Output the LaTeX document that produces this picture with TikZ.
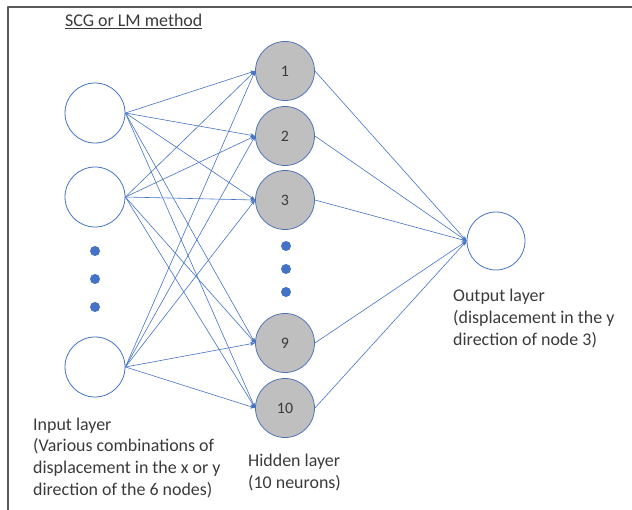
\documentclass[tikz,border=0pt]{standalone}
\usepackage{fontspec}
\setmainfont{Carlito}
\usetikzlibrary{arrows.meta}
\definecolor{netblue}{HTML}{4472C4}
\definecolor{txtgray}{HTML}{3A3A3A}
\tikzset{
	inputnode/.style={circle, draw=netblue, thick, minimum size=60bp, inner sep=0pt},
	hiddennode/.style={circle, draw=netblue!80!gray, thick, fill=gray!50, minimum size=59bp, inner sep=0pt, text=txtgray, font=\fontsize{16}{19}\selectfont},
	link/.style={draw=netblue, line width=0.6pt, -{Stealth[length=5bp,width=4bp]}},
	label/.style={text=txtgray, align=left, anchor=base west, inner sep=0pt, font=\fontsize{18}{21.7}\selectfont}
}
\begin{document}
\begin{tikzpicture}[x=1bp, y=-1bp, line join=round]
	\useasboundingbox (0,0) rectangle (632,510);
	\draw[line width=1.6pt, gray!70!black] (8,510)--(8,7)--(632,7);
	% input layer
	\node[inputnode] (in1) at (95,113) {};
	\node[inputnode] (in2) at (95,197) {};
	\node[inputnode] (in6) at (95,367) {};
	\foreach \y in {251,279,307}\fill[netblue] (95,\y) circle (5bp);
	% hidden layer
	\foreach \n/\y in {1/71,2/136,3/200,9/343,10/408}
		\node[hiddennode] (h\n) at (285,\y) {\n};
	\foreach \y in {246,269,292}\fill[netblue] (286,\y) circle (5bp);
	% output layer
	\node[inputnode, minimum size=58bp] (out) at (496,241) {};
	% connections
	\foreach \i in {1,2,6}
		\foreach \h in {1,2,3,9,10}
			\draw[link] (in\i.east)--(h\h.west);
	\foreach \h in {1,2,3,9,10}
		\draw[link] (h\h.east)--(out.west);
	% labels (base = last line)
	\node[label] (title) at (65,27) {\underline{SCG or LM method}};
	\node[label] (inlab) at (33,495) {Input layer\\(Various combinations of\\displacement in the x or y\\direction of the 6 nodes)};
	\node[label] (hidlab) at (248,488) {Hidden layer\\(10 neurons)};
	\node[label] (outlab) at (453,345) {Output layer\\(displacement in the y\\direction of node 3)};
\end{tikzpicture}
\end{document}
